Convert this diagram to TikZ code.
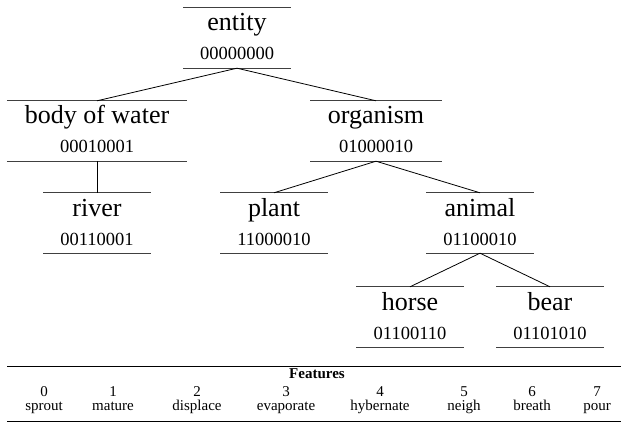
\documentclass[tikz,border=0pt]{standalone}
\usepackage{fontspec}
\setmainfont{Liberation Serif}
\tikzset{
  box/.style={rectangle, draw=none, inner sep=0pt, minimum height=60pt},
  rule/.style={draw=black!75, line width=0.9pt},
  conn/.style={draw=black, line width=0.8pt},
  lab/.style={anchor=base, inner sep=0pt, font=\fontsize{26}{27}\selectfont},
  code/.style={anchor=base, inner sep=0pt, font=\fontsize{18.5}{19}\selectfont},
  tab/.style={anchor=base, inner sep=0pt, font=\fontsize{15}{16}\selectfont},
  tabhead/.style={anchor=base, inner sep=0pt, font=\fontsize{15}{16}\selectfont\bfseries},
  tabrule/.style={draw=black, line width=1pt}
}
\newcommand\concept[6]{%
  \node[box, minimum width=#4] (#1) at (#2, -#3-30) {};
  \draw[rule] (#1.north west) -- (#1.north east);
  \draw[rule] (#1.south west) -- (#1.south east);
  \node[lab] (#1-l) at (#2, -#3-23) {#5};
  \node[code] (#1-c) at (#2, -#3-52) {#6};
}
\begin{document}
\begin{tikzpicture}[x=1pt, y=1pt]
\useasboundingbox (0,0) rectangle (621,-425);
% tree
\concept{ent}{237}{8}{107pt}{entity}{00000000}
\concept{bow}{97}{101}{180pt}{body of water}{00010001}
\concept{org}{376}{101}{131pt}{organism}{01000010}
\concept{riv}{97}{193}{107pt}{river}{00110001}
\concept{pla}{274}{193}{107pt}{plant}{11000010}
\concept{ani}{480}{193}{107pt}{animal}{01100010}
\concept{hor}{410}{287}{107pt}{horse}{01100110}
\concept{bea}{550}{287}{107pt}{bear}{01101010}
\draw[conn] (ent.south) -- (bow.north);
\draw[conn] (ent.south) -- (org.north);
\draw[conn] (bow.south) -- (riv.north);
\draw[conn] (org.south) -- (pla.north);
\draw[conn] (org.south) -- (ani.north);
\draw[conn] (ani.south) -- (hor.north);
\draw[conn] (ani.south) -- (bea.north);
% table
\coordinate (t1) at (7,-366);
\coordinate (t2) at (621,-366);
\coordinate (b1) at (7,-421);
\coordinate (b2) at (621,-421);
\draw[tabrule] (t1) -- (t2);
\draw[tabrule] (b1) -- (b2);
\node[tabhead] (feat) at (317,-378) {Features};
\foreach \i/\xx/\w in {0/44/sprout, 1/113/mature, 2/197/displace, 3/286/evaporate, 4/380/hybernate, 5/464/neigh, 6/532/breath, 7/597/pour} {
  \node[tab] (n\i) at (\xx,-396) {\i};
  \node[tab] (w\i) at (\xx,-410) {\w};
}
\end{tikzpicture}
\end{document}
